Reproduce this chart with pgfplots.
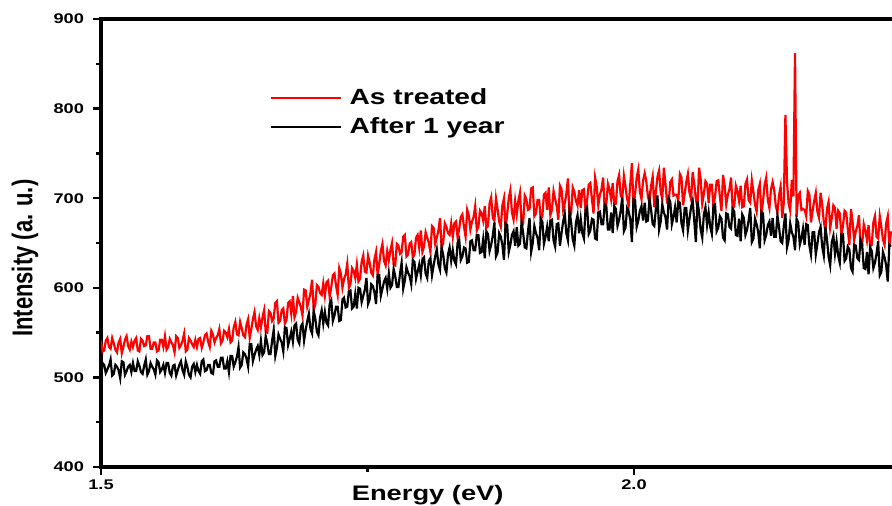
\documentclass[border=0pt]{standalone}
\usepackage{fontspec}
\setmainfont{Liberation Sans}
\usepackage{graphicx}
\usepackage{pgfplots}
\usepackage{pgfplotstable}
\pgfplotsset{compat=1.18}
\newcommand{\W}[1]{\scalebox{1.3}[1]{#1}}

% As treated (red), one value every 0.0015 eV from 1.5 eV
\pgfplotstableread[row sep=\\]{
y\\
541\\529\\530\\541\\544\\534\\532\\544\\538\\531\\528\\539\\543\\527\\534\\542\\546\\535\\531\\540\\
534\\541\\544\\530\\529\\543\\541\\535\\536\\546\\546\\532\\532\\539\\539\\529\\530\\542\\542\\534\\
546\\531\\534\\543\\539\\536\\528\\546\\544\\533\\536\\541\\549\\529\\531\\544\\541\\537\\534\\542\\
534\\543\\544\\533\\539\\547\\549\\540\\534\\552\\548\\539\\544\\547\\554\\538\\541\\552\\550\\545\\
554\\539\\541\\556\\562\\548\\547\\562\\555\\547\\545\\559\\565\\544\\554\\565\\573\\557\\553\\566\\
556\\567\\575\\551\\550\\574\\572\\563\\566\\583\\585\\561\\563\\575\\577\\560\\564\\583\\585\\571\\
591\\567\\573\\589\\584\\578\\569\\598\\597\\579\\586\\594\\609\\576\\581\\603\\601\\594\\592\\605\\
591\\606\\608\\590\\601\\614\\616\\602\\592\\622\\616\\600\\610\\615\\627\\600\\604\\622\\619\\611\\
626\\607\\610\\629\\636\\618\\617\\636\\628\\617\\614\\632\\640\\614\\627\\641\\649\\630\\625\\641\\
631\\642\\650\\626\\625\\649\\647\\638\\640\\657\\659\\635\\637\\649\\651\\634\\637\\656\\659\\645\\
664\\640\\646\\662\\656\\650\\640\\669\\667\\649\\656\\664\\678\\645\\650\\672\\668\\661\\659\\672\\
657\\672\\674\\656\\666\\679\\682\\668\\657\\687\\681\\665\\674\\679\\691\\664\\668\\686\\683\\675\\
691\\667\\669\\694\\701\\678\\675\\700\\688\\674\\668\\692\\700\\666\\682\\700\\709\\684\\676\\697\\
682\\697\\706\\674\\672\\703\\699\\687\\688\\711\\712\\680\\683\\698\\698\\676\\680\\704\\706\\687\\
712\\681\\687\\708\\699\\691\\676\\714\\710\\687\\694\\705\\722\\679\\683\\712\\707\\697\\692\\709\\
689\\709\\710\\686\\698\\715\\717\\699\\683\\723\\713\\692\\704\\710\\723\\688\\693\\716\\710\\699\\
717\\693\\694\\719\\726\\703\\700\\725\\713\\699\\692\\716\\739\\689\\705\\723\\732\\707\\699\\720\\
728\\719\\702\\695\\714\\724\\690\\707\\724\\731\\707\\699\\734\\716\\695\\694\\718\\721\\703\\704\\
704\\697\\727\\723\\692\\705\\718\\727\\706\\699\\729\\716\\699\\689\\734\\721\\694\\705\\719\\716\\
695\\715\\715\\691\\702\\719\\720\\702\\686\\726\\714\\693\\704\\710\\723\\688\\691\\714\\708\\697\\
714\\690\\691\\716\\721\\698\\695\\720\\707\\693\\685\\709\\716\\682\\697\\715\\723\\698\\689\\710\\
718\\709\\691\\684\\703\\713\\678\\695\\793\\718\\694\\686\\720\\702\\862\\679\\703\\706\\687\\688\\
687\\680\\708\\704\\673\\686\\697\\706\\685\\678\\706\\693\\674\\664\\688\\696\\667\\678\\692\\689\\
666\\686\\683\\659\\669\\686\\684\\666\\648\\688\\674\\653\\663\\669\\681\\646\\648\\671\\664\\653\\
670\\646\\648\\673\\680\\657\\655\\680\\668\\654\\648\\672\\680\\646\\663\\
}\redtab

% After 1 year (black)
\pgfplotstableread[row sep=\\]{
y\\
502\\516\\514\\505\\509\\513\\520\\502\\504\\514\\512\\508\\499\\518\\517\\503\\507\\512\\514\\506\\
516\\507\\507\\518\\513\\506\\504\\513\\520\\503\\507\\516\\512\\509\\503\\519\\517\\506\\509\\514\\
505\\516\\516\\505\\502\\513\\514\\502\\508\\514\\518\\508\\503\\518\\512\\503\\500\\512\\515\\506\\
514\\507\\504\\518\\520\\507\\508\\514\\514\\505\\504\\518\\519\\512\\512\\522\\522\\510\\510\\518\\
506\\524\\524\\512\\517\\523\\534\\511\\514\\528\\526\\521\\512\\537\\537\\518\\525\\531\\535\\525\\
541\\525\\528\\546\\538\\526\\526\\541\\553\\524\\533\\548\\543\\539\\529\\556\\555\\536\\543\\551\\
540\\558\\560\\542\\538\\557\\560\\541\\553\\563\\571\\554\\549\\574\\566\\551\\547\\567\\575\\560\\
573\\561\\558\\582\\586\\563\\569\\579\\579\\563\\564\\587\\589\\578\\579\\596\\597\\577\\579\\593\\
577\\600\\599\\584\\591\\598\\611\\582\\587\\604\\602\\595\\582\\614\\614\\591\\599\\607\\611\\599\\
616\\600\\603\\621\\613\\601\\601\\616\\628\\599\\608\\623\\617\\613\\604\\631\\629\\610\\618\\626\\
614\\632\\634\\616\\611\\630\\633\\614\\625\\635\\643\\626\\620\\645\\637\\622\\617\\637\\645\\630\\
642\\630\\626\\650\\654\\631\\635\\645\\644\\628\\629\\652\\653\\642\\642\\659\\659\\639\\640\\654\\
633\\663\\660\\641\\648\\658\\673\\635\\639\\661\\657\\648\\631\\672\\670\\640\\648\\659\\663\\647\\
668\\647\\649\\673\\661\\645\\644\\663\\678\\640\\650\\669\\661\\656\\642\\677\\674\\649\\657\\668\\
652\\675\\676\\653\\646\\671\\672\\647\\661\\674\\683\\661\\653\\685\\673\\654\\647\\673\\681\\661\\
677\\661\\655\\687\\690\\660\\664\\677\\676\\655\\654\\684\\685\\671\\671\\693\\691\\665\\665\\684\\
661\\691\\688\\669\\676\\686\\701\\663\\667\\689\\685\\676\\651\\699\\698\\668\\675\\686\\691\\675\\
695\\674\\675\\699\\687\\671\\669\\688\\703\\665\\674\\693\\684\\679\\665\\700\\696\\671\\679\\690\\
673\\696\\695\\672\\664\\689\\689\\664\\677\\690\\697\\675\\651\\697\\684\\665\\656\\682\\690\\670\\
684\\668\\660\\692\\693\\663\\667\\680\\677\\656\\653\\683\\682\\668\\666\\688\\685\\659\\658\\677\\
652\\682\\678\\659\\665\\675\\689\\651\\655\\677\\671\\662\\644\\685\\683\\653\\659\\670\\674\\658\\
678\\657\\657\\681\\668\\652\\650\\669\\683\\645\\653\\672\\662\\657\\642\\677\\673\\648\\655\\666\\
648\\671\\670\\647\\637\\662\\662\\637\\649\\662\\668\\646\\636\\668\\654\\635\\625\\651\\658\\638\\
652\\636\\628\\660\\660\\630\\633\\646\\643\\622\\618\\648\\647\\633\\631\\653\\648\\622\\621\\640\\
615\\645\\641\\622\\628\\638\\652\\614\\618\\640\\634\\625\\607\\648\\646\\
}\blacktab

\begin{document}
\begin{tikzpicture}
\begin{axis}[
  name=ax,
  scale only axis, width=395.5pt, height=224pt,
  xmin=1.5, xmax=2.242, ymin=400, ymax=900,
  axis x line*=box, axis y line*=left,
  axis line style={-, line width=2.2pt, line cap=rect},
  xtick={1.5,2.0}, xticklabels={\W{1.5},\W{2.0}},
  ytick={400,500,600,700,800,900},
  yticklabels={\W{400},\W{500},\W{600},\W{700},\W{800},\W{900}},
  minor x tick num=1, minor y tick num=1,
  tick align=outside, xtick pos=left, ytick pos=left,
  major tick length=4pt, minor tick length=2.5pt,
  every tick/.style={black, line width=1.2pt},
  ticklabel style={font=\fontsize{7}{8}\selectfont\bfseries},
  yticklabel style={xshift=-1pt},
  xticklabel style={yshift=1pt},
  every axis y label/.style={at={(rel axis cs:0,0.466)}, xshift=-38pt, rotate=90, anchor=center,
     font=\fontsize{11}{13}\selectfont\bfseries},
  every axis x label/.style={at={(rel axis cs:0.413,0)}, yshift=-14pt, anchor=center,
     font=\fontsize{10.5}{12}\selectfont\bfseries},
  ylabel={\scalebox{1}[1.3]{Intensity (a. u.)}},
  xlabel={\W{Energy (eV)}},
  legend style={draw=none, fill=none, at={(rel axis cs:0.2137,0.85)}, anchor=north west,
     font=\fontsize{11}{13}\selectfont\bfseries, row sep=3pt, inner sep=0pt,
     nodes={inner sep=1pt}},
  legend cell align=left,
  legend image code/.code={\draw[#1, line width=0.6pt] (0pt,0pt) -- (35pt,0pt);},
]
\addplot[red, line width=1.1pt] table[x expr=1.5+0.0015*\coordindex, y=y] {\redtab};
\addlegendentry{\hspace{3pt}\scalebox{1.28}[1]{As treated}}
\addplot[black, line width=1.1pt] table[x expr=1.5+0.0015*\coordindex, y=y] {\blacktab};
\addlegendentry{\hspace{3pt}\scalebox{1.28}[1]{After 1 year}}
\end{axis}
\pgfresetboundingbox
\path ([shift={(-50.5pt,-19pt)}]ax.south west) rectangle ([shift={(0pt,9.5pt)}]ax.north east);
\end{tikzpicture}
\end{document}
